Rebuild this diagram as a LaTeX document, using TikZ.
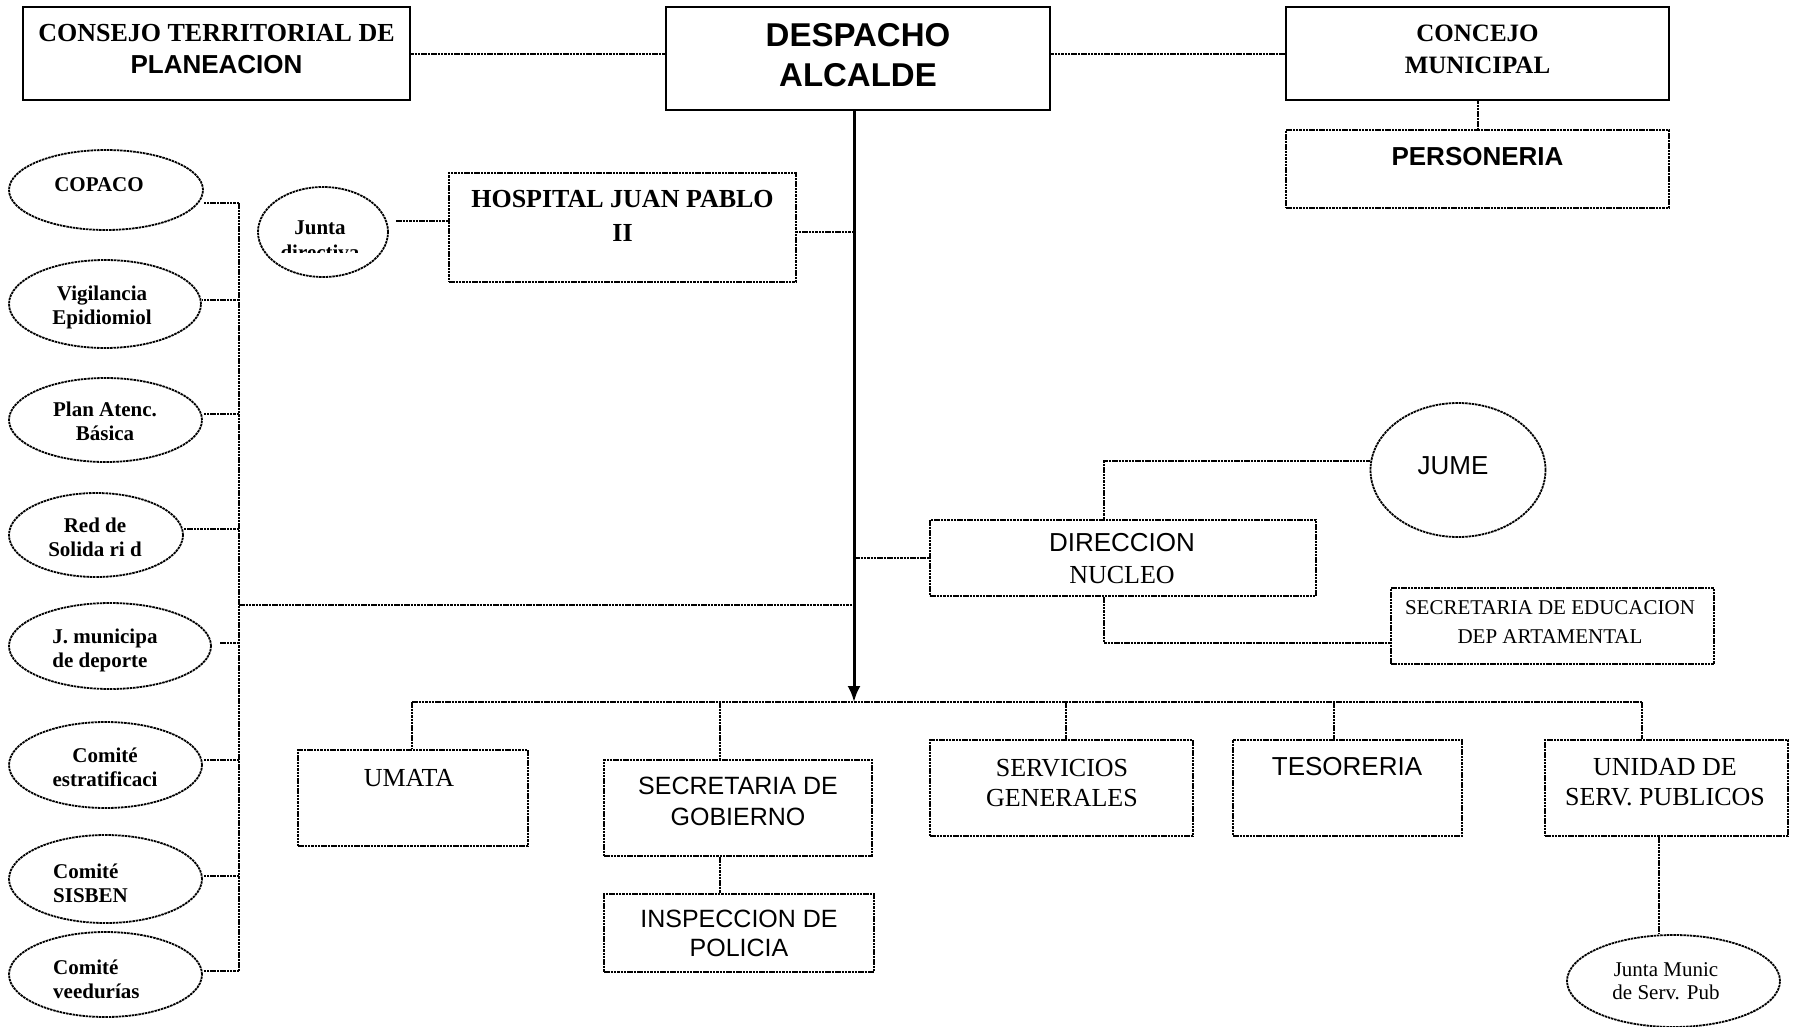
\documentclass[tikz,border=0pt]{standalone}
\usepackage{fontspec}
\setmainfont{Liberation Serif}
\newfontfamily\fA{Liberation Sans}
\newfontfamily\fT{Liberation Serif}
\usetikzlibrary{shapes.geometric,arrows.meta}
\begin{document}
\begin{tikzpicture}[x=1pt,y=-1pt,
  solidbox/.style={draw,line width=2.4pt,rectangle,inner sep=0pt},
  dotbox/.style={draw,line width=2pt,dash pattern=on 2.5pt off 0.8pt,rectangle,inner sep=0pt},
  dotell/.style={draw,line width=1.8pt,dash pattern=on 2.5pt off 0.8pt,ellipse,inner sep=0pt},
  conn/.style={line width=2pt,dash pattern=on 2.5pt off 0.8pt},
  mainln/.style={line width=3pt,-{Latex[length=16pt,width=13pt]}},
  tb/.style={font=\fT\bfseries\fontsize{25}{32}\selectfont,align=center,inner sep=0pt},
  ab/.style={font=\fA\bfseries\fontsize{26}{32}\selectfont,align=center,inner sep=0pt},
  el/.style={font=\fT\bfseries\fontsize{21}{24}\selectfont,align=center,inner sep=0pt},
  ar/.style={font=\fA\fontsize{26}{31}\selectfont,align=center,inner sep=0pt},
  tr/.style={font=\fT\fontsize{26}{30}\selectfont,align=center,inner sep=0pt}
]
\useasboundingbox[fill=white] (0,0) rectangle (1794,1026);

% top row
\node[solidbox,minimum width=387,minimum height=93] (consejo) at (216.5,53.5) {};
\node[inner sep=0pt,align=center,font=\bfseries\fontsize{26}{32}\selectfont] (consejo-t) at (216.5,49) {\fT CONSEJO TERRITORIAL DE\\\fA PLANEACION};
\node[solidbox,minimum width=384,minimum height=103] (despacho) at (858,58.5) {};
\node[font=\fA\bfseries\fontsize{33}{40}\selectfont,align=center,inner sep=0pt] (despacho-t) at (858,55) {DESPACHO\\ALCALDE};
\node[solidbox,minimum width=383,minimum height=93] (concejo) at (1477.5,53.5) {};
\node[tb] (concejo-t) at (1477.5,49) {CONCEJO\\MUNICIPAL};
\node[dotbox,minimum width=383,minimum height=78] (personeria) at (1477.5,169) {};
\node[ab] (personeria-t) at (1477.5,157) {PERSONERIA};

\draw[conn] (consejo.east) -- (consejo.east -| despacho.west);
\draw[conn] (concejo.west) -- (concejo.west -| despacho.east);
\draw[conn] (concejo.south) -- (personeria.north);

% main vertical
\coordinate (mtop) at (854,110);
\coordinate (mtip) at (854,702);
\draw[mainln] (mtop) -- (mtip);

% hospital
\node[dotbox,minimum width=347,minimum height=109] (hospital) at (622.5,227.5) {};
\node[tb,font=\fT\bfseries\fontsize{26}{34}\selectfont] (hospital-t) at (622.5,216) {HOSPITAL JUAN PABLO\\II};
\coordinate (hj) at (854,232);
\draw[conn] (hj) -- (hj -| hospital.east);
\node[dotell,minimum width=130,minimum height=90] (jd) at (323,232) {};
\node[el,anchor=base] (jd-t1) at (320,234) {Junta};
\begin{scope}
\clip (250,236) rectangle (400,252);
\node[el,anchor=base] (jd-t2) at (320,259) {directiva};
\end{scope}
\coordinate (jdl) at (396,221);
\draw[conn] (jdl) -- (jdl -| hospital.west);

% left ellipses
\node[dotell,minimum width=194,minimum height=80] (copaco) at (106,190) {};
\node[el] (copaco-t) at (99,185) {COPACO};
\node[dotell,minimum width=192,minimum height=88] (vig) at (105,304) {};
\node[el] (vig-t) at (102,307.5) {Vigilancia\\Epidiomiol};
\node[dotell,minimum width=193,minimum height=84] (plan) at (105.5,420) {};
\node[el] (plan-t) at (105,421.5) {Plan Atenc.\\B\'asica};
\node[dotell,minimum width=174,minimum height=84] (red) at (96,535) {};
\node[el] (red-t) at (95,537) {Red de\\Solida ri d};
\node[dotell,minimum width=202,minimum height=86] (jmun) at (110,646) {};
\node[el,align=left] (jmun-t) at (105,650.5) {J. municipa\\de deporte};
\node[dotell,minimum width=193,minimum height=86] (estrat) at (105.5,765) {};
\node[el] (estrat-t) at (105,767.5) {Comit\'e\\estratificaci};
\node[dotell,minimum width=193,minimum height=88] (sisben) at (105.5,879) {};
\node[el,align=left,anchor=west] (sisben-t) at (53,883) {Comit\'e\\SISBEN};
\node[dotell,minimum width=193,minimum height=85] (veed) at (105.5,974.5) {};
\node[el,align=left,anchor=west] (veed-t) at (53,979) {Comit\'e\\veedur\'ias};

\coordinate (b1) at (239,203);
\coordinate (b2) at (239,300);
\coordinate (b3) at (239,414);
\coordinate (b4) at (239,529);
\coordinate (b5) at (239,643);
\coordinate (b6) at (239,760);
\coordinate (b7) at (239,876);
\coordinate (b8) at (239,971);
\coordinate (jmx) at (220,643);
\draw[conn] (b1) -- (b8);
\draw[conn] (b1) -- (b1 -| copaco.east);
\draw[conn] (b2) -- (b2 -| vig.east);
\draw[conn] (b3) -- (b3 -| plan.east);
\draw[conn] (b4) -- (b4 -| red.east);
\draw[conn] (b5) -- (jmx);
\draw[conn] (b6) -- (b6 -| estrat.east);
\draw[conn] (b7) -- (b7 -| sisben.east);
\draw[conn] (b8) -- (b8 -| veed.east);
\coordinate (lb) at (239,605);
\draw[conn] (lb) -- (lb -| mtop);

% direccion nucleo
\node[dotbox,minimum width=386,minimum height=76] (direccion) at (1123,558) {};
\node[inner sep=0pt,align=center,font=\fontsize{26}{32}\selectfont] (direccion-t) at (1122,559) {\fA DIRECCION\\\fT NUCLEO};
\draw[conn] (mtop |- direccion.west) -- (direccion.west);
\node[dotell,minimum width=175,minimum height=134] (jume) at (1458,470) {};
\node[ar] (jume-t) at (1453,466) {JUME};
\coordinate (dj) at (1104,461);
\draw[conn] (direccion.north -| dj) -- (dj) -- (dj -| jume.west);
\node[dotbox,minimum width=323,minimum height=76] (seceduc) at (1552.5,626) {};
\node[font=\fT\fontsize{21}{29}\selectfont,align=center,inner sep=0pt] (seceduc-t) at (1550,622.5) {SECRETARIA DE EDUCACION\\DEP ARTAMENTAL};
\coordinate (de) at (1104,643);
\draw[conn] (direccion.south -| de) -- (de) -- (de -| seceduc.west);

% bottom row
\coordinate (d1) at (412,702);
\coordinate (d2) at (720,702);
\coordinate (d3) at (1066,702);
\coordinate (d4) at (1334,702);
\coordinate (d5) at (1642,702);
\draw[conn] (d1) -- (d5);

\node[dotbox,minimum width=230,minimum height=96] (umata) at (413,798) {};
\node[tr] (umata-t) at (409,778) {UMATA};
\node[dotbox,minimum width=268,minimum height=96] (secgob) at (738,808) {};
\node[font=\fA\fontsize{25}{31}\selectfont,align=center,inner sep=0pt] (secgob-t) at (738,801.5) {SECRETARIA DE\\GOBIERNO};
\node[dotbox,minimum width=270,minimum height=78] (inspeccion) at (739,933) {};
\node[font=\fA\fontsize{25}{29}\selectfont,align=center,inner sep=0pt] (inspeccion-t) at (739,933.5) {INSPECCION DE\\POLICIA};
\node[dotbox,minimum width=263,minimum height=96] (servicios) at (1061.5,788) {};
\node[tr] (servicios-t) at (1062,783) {SERVICIOS\\GENERALES};
\node[dotbox,minimum width=229,minimum height=96] (tesoreria) at (1347.5,788) {};
\node[ar] (tesoreria-t) at (1347,767) {TESORERIA};
\node[dotbox,minimum width=243,minimum height=96] (unidad) at (1666.5,788) {};
\node[tr] (unidad-t) at (1665,782) {UNIDAD DE\\SERV. PUBLICOS};

\draw[conn] (d1) -- (d1 |- umata.north);
\draw[conn] (d2) -- (d2 |- secgob.north);
\draw[conn] (d3) -- (d3 |- servicios.north);
\draw[conn] (d4) -- (d4 |- tesoreria.north);
\draw[conn] (d5) -- (d5 |- unidad.north);
\draw[conn] (secgob.south -| d2) -- (inspeccion.north -| d2);

\node[dotell,minimum width=213,minimum height=92] (jmunic) at (1673.5,981) {};
\node[font=\fT\fontsize{21}{23}\selectfont,align=center,inner sep=0pt] (jmunic-t) at (1666,981.5) {Junta Munic\\de Serv. Pub};
\coordinate (du) at (1659,836);
\draw[conn] (unidad.south -| du) -- (jmunic.north -| du);
\end{tikzpicture}
\end{document}
